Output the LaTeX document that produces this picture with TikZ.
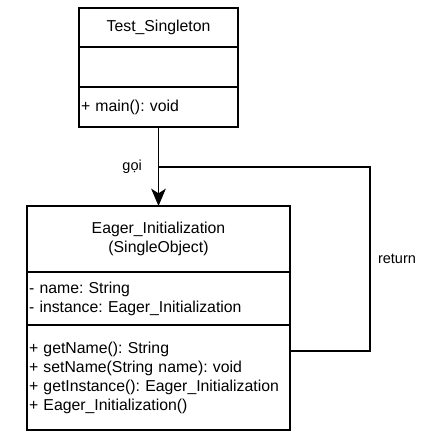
\documentclass[tikz,border=0pt]{standalone}
\usepackage{fontspec}
\setmainfont{Liberation Sans}
\usetikzlibrary{positioning,arrows.meta}
\frenchspacing

\tikzset{
  compart/.style={draw, rectangle, line width=1pt, outer sep=0pt,
    inner xsep=1.5pt, inner ysep=0pt, align=left,
    font=\fontsize{11.85}{14.25}\selectfont},
  tsbox/.style={compart, minimum width=119.25pt, text width=116.25pt},
  eabox/.style={compart, minimum width=197.25pt, text width=194.25pt},
  lbl/.style={inner sep=0pt, font=\fontsize{10.9}{13}\selectfont},
  conn/.style={line width=1pt},
  calltip/.style={-{Stealth[length=13pt, width=11pt, inset=3.5pt]}},
}

\begin{document}
\begin{tikzpicture}
    \useasboundingbox (0,0) rectangle (321pt,-336pt);

    % class Test_Singleton
    \node[tsbox, align=center, minimum height=29.25pt] (tsname) at (118.875pt,-20.625pt) {Test\_Singleton};
    \node[tsbox, minimum height=30pt, below=0pt of tsname] (tsattr) {};
    \node[tsbox, minimum height=30pt, below=0pt of tsattr] (tsmeth) {+ main(): void};

    % class Eager_Initialization
    \node[eabox, align=center, minimum height=49.5pt] (eaname) at (118.875pt,-179.25pt) {Eager\_Initialization\\(SingleObject)};
    \node[eabox, minimum height=39.75pt, below=0pt of eaname] (eaattr) {- name: String\\- instance: Eager\_Initialization};
    \node[eabox, minimum height=78.75pt, below=0pt of eaattr] (eameth) {+ getName(): String\\+ setName(String name): void\\+ getInstance(): Eager\_Initialization\\+ Eager\_Initialization()};

    \path (tsmeth.south) ++(0,-30pt) coordinate (callpt);
    \path (eameth.east) ++(0,19.875pt) coordinate (retpt);
    \path (retpt) ++(60pt,0) coordinate (retcorner);

    \draw[conn, calltip] (tsmeth) -- node[lbl, left=12pt] {gọi} (eaname);
    \draw[conn] (callpt) -| node[lbl, pos=0.75, right=5.5pt] {return} (retcorner) -- (retpt);
\end{tikzpicture}
\end{document}
